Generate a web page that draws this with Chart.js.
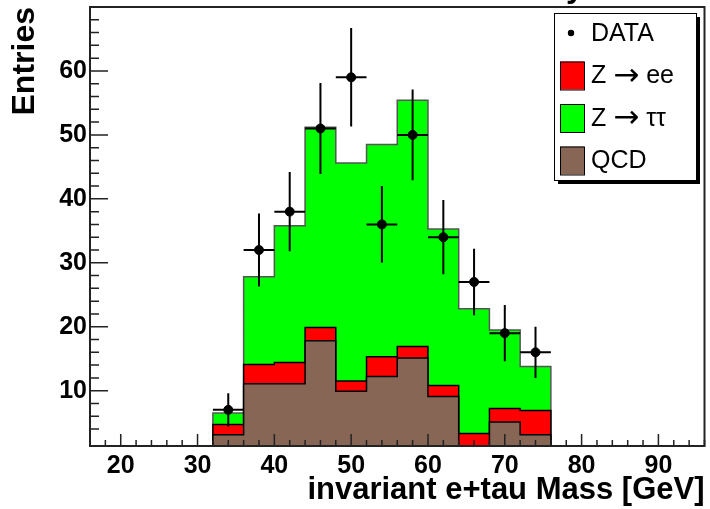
<!DOCTYPE html>
<html>
<head>
<meta charset="utf-8">
<script src="https://cdn.jsdelivr.net/npm/chart.js@4.4.0/dist/chart.umd.min.js"></script>
<style>
  html, body { margin: 0; padding: 0; background: #fff; }
  #wrap { width: 710px; height: 509px; }
</style>
</head>
<body>
<div id="wrap"><canvas id="c" width="710" height="509"></canvas></div>
<script>
// bins of 4 GeV (left edges), last value is the right edge of the last bin
const binEdges = [32, 36, 40, 44, 48, 52, 56, 60, 64, 68, 72, 76];
const binCenters = [34, 38, 42, 46, 50, 54, 58, 62, 66, 70, 74];
const binHalfWidth = 2;

// stacked MC contributions, bottom to top
const qcd = [3.1, 11.1, 11.1, 17.8, 9.9, 12.2, 15.1, 9.1, 0, 5.1, 3.1];
const zee = [1.6, 3.0, 3.3, 2.1, 1.6, 3.1, 1.8, 1.7, 3.3, 2.1, 3.8];
const ztt = [1.8, 13.7, 21.4, 31.3, 34.1, 33.2, 38.5, 24.5, 19.5, 12.3, 6.9];

// data points and their vertical errors
const dataCounts = [7, 32, 38, 51, 59, 36, 50, 34, 27, 19, 16];
const dataErrors = [2.6, 5.7, 6.2, 7.1, 7.7, 6.0, 7.1, 5.8, 5.2, 4.4, 4.0];

const xTickLabels = [20, 30, 40, 50, 60, 70, 80, 90];
const yTickLabels = [10, 20, 30, 40, 50, 60];

const X_MIN = 16, X_MAX = 96, Y_MIN = 1.35, Y_MAX = 70;
const FONT = "'Liberation Sans', Arial, Helvetica, sans-serif";

// histogram as a stepped line: value at left edge held until next edge
function stepPoints(vals) {
  const pts = [{ x: X_MIN, y: 0 }];
  vals.forEach((v, i) => pts.push({ x: binEdges[i], y: v }));
  pts.push({ x: binEdges[binEdges.length - 1], y: 0 });
  return pts;
}

function histDataset(label, vals, fill, color, border) {
  return {
    type: 'line',
    label: label,
    data: stepPoints(vals),
    stepped: 'before',
    fill: fill,
    backgroundColor: color,
    borderColor: border,
    borderWidth: 1.5,
    pointRadius: 0,
    tension: 0,
    stack: 'mc'
  };
}

const errorBars = {
  id: 'errorBars',
  afterDatasetsDraw(chart) {
    const { ctx, scales: { x, y } } = chart;
    ctx.save();
    ctx.strokeStyle = '#000';
    ctx.lineWidth = 2;
    dataCounts.forEach((v, i) => {
      const px = x.getPixelForValue(binCenters[i]);
      const py = y.getPixelForValue(v);
      ctx.beginPath();
      ctx.moveTo(px, y.getPixelForValue(v + dataErrors[i]));
      ctx.lineTo(px, y.getPixelForValue(v - dataErrors[i]));
      ctx.moveTo(x.getPixelForValue(binCenters[i] - binHalfWidth), py);
      ctx.lineTo(x.getPixelForValue(binCenters[i] + binHalfWidth), py);
      ctx.stroke();
    });
    ctx.restore();
  }
};

// ROOT-like frame with ticks pointing inside
const frame = {
  id: 'frame',
  afterDraw(chart) {
    const { ctx, chartArea: a, scales: { x, y } } = chart;
    ctx.save();
    ctx.strokeStyle = '#222';
    ctx.lineWidth = 2;
    ctx.strokeRect(a.left, a.top, a.right - a.left, a.bottom - a.top);
    ctx.lineWidth = 1.5;
    ctx.beginPath();
    x.ticks.forEach(t => {
      if (Math.abs(t.value % 2) > 1e-6) return;
      const px = x.getPixelForValue(t.value);
      const len = t.value % 10 === 0 ? 12 : 6;
      ctx.moveTo(px, a.bottom);
      ctx.lineTo(px, a.bottom - len);
    });
    y.ticks.forEach(t => {
      if (Math.abs(t.value % 2) > 1e-6) return;
      const py = y.getPixelForValue(t.value);
      const len = t.value % 10 === 0 ? 18 : 9;
      ctx.moveTo(a.left, py);
      ctx.lineTo(a.left + len, py);
    });
    ctx.stroke();

    // clipped title fragment at the very top
    ctx.fillStyle = '#000';
    ctx.font = 'bold 32px ' + FONT;
    ctx.textBaseline = 'alphabetic';
    ctx.textAlign = 'left';
    ctx.fillText('y', 566, -3);
    ctx.restore();
  }
};

// draws a label, giving the arrow a wider glyph
function drawLabel(ctx, text, x, y) {
  let cx = x;
  for (const part of text.split(/(\u2192)/)) {
    if (!part) continue;
    ctx.font = (part === '\u2192' ? "31px 'DejaVu Sans'" : '25px ' + FONT);
    ctx.fillText(part, cx, y);
    cx += ctx.measureText(part).width;
  }
}

const legendOrder = [0, 2, 3, 1];
const rootLegend = {
  id: 'rootLegend',
  afterDraw(chart) {
    const ctx = chart.ctx;
    const bx = 554, by = 13, bw = 142, bh = 167;
    ctx.save();
    ctx.fillStyle = '#000';
    ctx.fillRect(bx + 4, by + 4, bw, bh);
    ctx.fillStyle = '#fff';
    ctx.fillRect(bx, by, bw, bh);
    ctx.strokeStyle = '#000';
    ctx.lineWidth = 1;
    ctx.strokeRect(bx + 0.5, by + 0.5, bw, bh);
    ctx.textBaseline = 'middle';
    ctx.textAlign = 'left';
    legendOrder.forEach((di, row) => {
      const ds = chart.data.datasets[di];
      const cy = by + 20 + row * 42.5;
      if (ds.type === 'scatter') {
        ctx.fillStyle = '#000';
        ctx.beginPath();
        ctx.arc(571, cy, 3.2, 0, Math.PI * 2);
        ctx.fill();
      } else {
        ctx.fillStyle = ds.backgroundColor;
        ctx.fillRect(560, cy - 14, 24, 28);
        ctx.strokeRect(560.5, cy - 13.5, 24, 28);
      }
      ctx.fillStyle = '#000';
      drawLabel(ctx, ds.label, 591, cy + 1);
    });
    ctx.restore();
  }
};

new Chart(document.getElementById('c'), {
  type: 'line',
  data: {
    datasets: [
      {
        type: 'scatter',
        label: 'DATA',
        data: binCenters.map((x, i) => ({ x: x, y: dataCounts[i] })),
        pointRadius: 4.5,
        pointBackgroundColor: '#000',
        pointBorderColor: '#000',
        showLine: false,
        stack: 'data'
      },
      histDataset('QCD', qcd, 'origin', '#876655', '#000'),
      histDataset('Z \u2192 ee', zee, '-1', '#ff0000', '#000'),
      histDataset('Z \u2192 \u03c4\u03c4', ztt, '-1', '#00ff00', '#555')
    ]
  },
  options: {
    responsive: false,
    devicePixelRatio: 1,
    animation: false,
    layout: { padding: { top: 7, right: 4, left: 0, bottom: 0 } },
    plugins: { legend: { display: false }, tooltip: { enabled: false } },
    scales: {
      x: {
        type: 'linear',
        min: X_MIN,
        max: X_MAX,
        grid: { display: false, drawTicks: false },
        border: { display: false },
        ticks: {
          stepSize: 2,
          autoSkip: false,
          maxRotation: 0,
          minRotation: 0,
          padding: 5,
          color: '#000',
          font: { family: FONT, size: 25, weight: 'bold' },
          callback: v => xTickLabels.includes(v) ? String(v) : ''
        },
        title: {
          display: true,
          text: 'invariant e+tau Mass [GeV]',
          align: 'end',
          color: '#000',
          font: { family: FONT, size: 31, weight: 'bold' },
          padding: { top: 0, bottom: 0 }
        },
        afterFit: s => { s.height = 63; s.paddingLeft = 0; s.paddingRight = 0; }
      },
      y: {
        stacked: true,
        min: Y_MIN,
        max: Y_MAX,
        grid: { display: false, drawTicks: false },
        border: { display: false },
        ticks: {
          stepSize: 2,
          autoSkip: false,
          padding: 3,
          color: '#000',
          font: { family: FONT, size: 25, weight: 'bold' },
          callback: v => yTickLabels.includes(v) ? String(v) : ''
        },
        title: {
          display: true,
          text: 'Entries',
          align: 'end',
          color: '#000',
          font: { family: FONT, size: 32, weight: 'bold' },
          padding: { top: 6, bottom: 0 }
        },
        afterFit: s => { s.width = 90; s.paddingTop = 0; s.paddingBottom = 0; }
      }
    }
  },
  plugins: [errorBars, frame, rootLegend]
});
</script>
</body>
</html>
